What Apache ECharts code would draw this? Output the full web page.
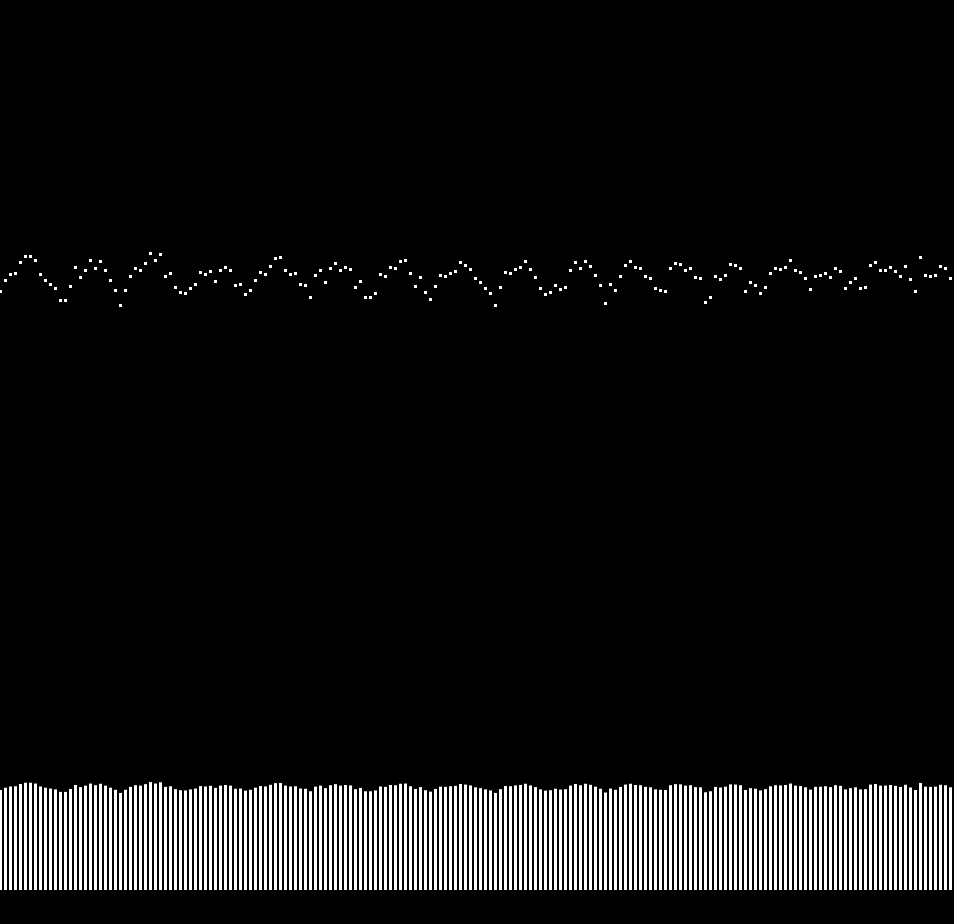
<!DOCTYPE html>
<html>
<head>
<meta charset="utf-8">
<script src="https://cdn.jsdelivr.net/npm/echarts@6/dist/echarts.min.js"></script>
<style>
html,body{margin:0;padding:0;background:#000;}
#chart{width:954px;height:924px;}
</style>
</head>
<body>
<div id="chart"></div>
<script>
// Values (one series drawn twice: as dots and as bars)
var values = [
480,491,497,498,509,515,515,511,497,491,
487,483,471,471,485,504,494,501,511,503,
510,501,491,481,466,481,495,503,501,508,
518,511,517,495,498,484,479,478,483,487,
499,497,500,490,501,504,501,486,487,477,
481,491,499,497,505,513,514,501,497,498,
487,486,474,496,501,489,503,508,501,504,
502,484,490,474,474,478,497,495,504,503,
510,511,498,485,494,479,472,485,496,495,
498,500,509,506,502,493,489,483,478,466,
484,499,498,502,504,510,502,494,483,477,
479,486,482,484,501,509,503,510,505,496,
486,468,487,481,495,506,510,504,503,495,
493,483,481,480,503,508,507,501,503,494,
493,469,474,495,492,496,507,506,503,480,
489,486,478,484,498,503,502,504,511,501,
499,493,482,495,496,498,494,503,500,483,
489,493,483,484,506,509,501,501,504,500,
495,505,492,480,514,496,495,496,505,503,
493
];
var categories = values.map(function(_, i){ return String(i); });

var chart = echarts.init(document.getElementById('chart'), null, {renderer:'canvas'});
chart.setOption({
  backgroundColor: '#000',
  animation: false,
  grid: [
    {left: 0.5, width: 950, top: 221.5, height: 150, containLabel: false},
    {left: 0.5, width: 950, top: 770, height: 120, containLabel: false}
  ],
  xAxis: [
    {type: 'category', gridIndex: 0, data: categories, boundaryGap: false, show: false},
    {type: 'category', gridIndex: 1, data: categories, boundaryGap: false, show: false}
  ],
  yAxis: [
    {type: 'value', gridIndex: 0, min: 400, max: 550, show: false},
    {type: 'value', gridIndex: 1, min: 0, max: 576, show: false}
  ],
  series: [
    {
      type: 'scatter', xAxisIndex: 0, yAxisIndex: 0, data: values,
      symbol: 'rect', symbolSize: 3,
      itemStyle: {color: '#ffffff', opacity: 1}, silent: true
    },
    {
      type: 'bar', xAxisIndex: 1, yAxisIndex: 1, data: values,
      barWidth: 3, clip: false,
      itemStyle: {color: '#ffffff', opacity: 1}, silent: true
    }
  ]
});
</script>
</body>
</html>
